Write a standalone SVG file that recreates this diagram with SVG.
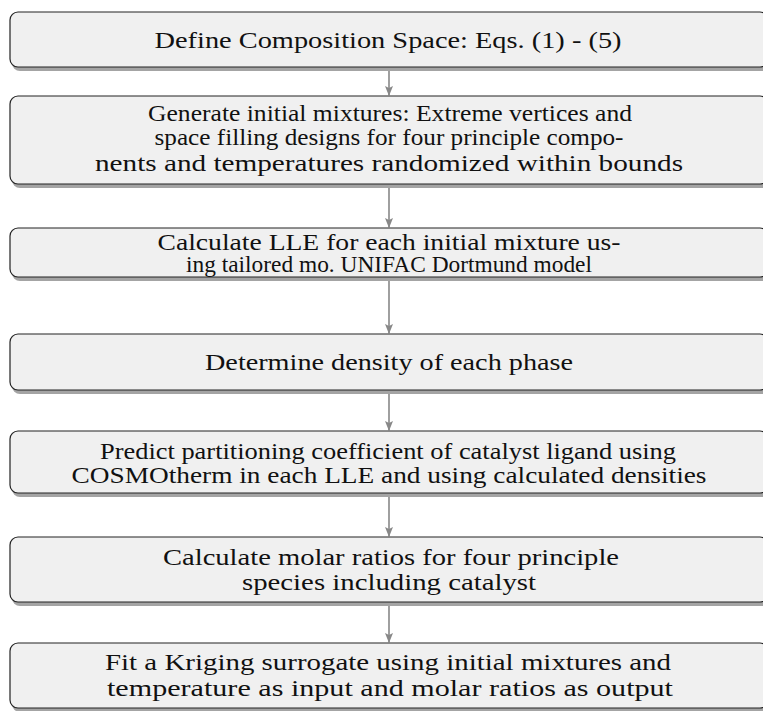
<svg xmlns="http://www.w3.org/2000/svg" width="763" height="711" viewBox="0 0 763 711">
<style>
.box{fill:#f0f0f0;stroke:#222;stroke-width:1.2}
.sh{fill:#a4a4a4}
.t{font-family:'Liberation Serif','DejaVu Serif','Times New Roman',serif;font-size:24px;fill:#111;text-anchor:middle}
.c{stroke:#888;stroke-width:1.6;fill:none}
</style>
<defs>
<marker id="ah" markerWidth="10" markerHeight="12" refX="9" refY="4" orient="auto" markerUnits="userSpaceOnUse" viewBox="0 0 10 8">
<path d="M0,0 L10,4 L0,8 L2,4 Z" fill="#888"/>
</marker>
</defs>
<rect width="763" height="711" fill="#fff"/>
<g id="connectors">
<line class="c" x1="389" y1="71" x2="389" y2="95" marker-end="url(#ah)"/>
<line class="c" x1="389" y1="188" x2="389" y2="227" marker-end="url(#ah)"/>
<line class="c" x1="389" y1="281" x2="389" y2="333" marker-end="url(#ah)"/>
<line class="c" x1="389" y1="394" x2="389" y2="430" marker-end="url(#ah)"/>
<line class="c" x1="389" y1="497" x2="389" y2="536" marker-end="url(#ah)"/>
<line class="c" x1="389" y1="606" x2="389" y2="642" marker-end="url(#ah)"/>
</g>
<g id="n1">
<rect class="sh" x="12" y="16" width="758" height="55" rx="8"/>
<rect class="box" x="10" y="12" width="758" height="55" rx="8"/>
<text class="t" x="388" y="48" textLength="467" lengthAdjust="spacingAndGlyphs">Define Composition Space: Eqs. (1) - (5)</text>
</g>
<g id="n2">
<rect class="sh" x="12" y="100" width="758" height="88" rx="8"/>
<rect class="box" x="10" y="96" width="758" height="88" rx="8"/>
<text class="t" x="390" y="121" textLength="484" lengthAdjust="spacingAndGlyphs">Generate initial mixtures: Extreme vertices and</text>
<text class="t" x="389" y="145" textLength="469" lengthAdjust="spacingAndGlyphs">space filling designs for four principle compo-</text>
<text class="t" x="389" y="171" textLength="588" lengthAdjust="spacingAndGlyphs">nents and temperatures randomized within bounds</text>
</g>
<g id="n3">
<rect class="sh" x="12" y="232" width="758" height="49" rx="8"/>
<rect class="box" x="10" y="228" width="758" height="49" rx="8"/>
<text class="t" x="389" y="250" textLength="463" lengthAdjust="spacingAndGlyphs">Calculate LLE for each initial mixture us-</text>
<text class="t" x="389" y="272" textLength="406" lengthAdjust="spacingAndGlyphs">ing tailored mo. UNIFAC Dortmund model</text>
</g>
<g id="n4">
<rect class="sh" x="12" y="338" width="758" height="56" rx="8"/>
<rect class="box" x="10" y="334" width="758" height="56" rx="8"/>
<text class="t" x="389" y="370" textLength="368" lengthAdjust="spacingAndGlyphs">Determine density of each phase</text>
</g>
<g id="n5">
<rect class="sh" x="12" y="435" width="758" height="62" rx="8"/>
<rect class="box" x="10" y="431" width="758" height="62" rx="8"/>
<text class="t" x="388" y="459" textLength="576" lengthAdjust="spacingAndGlyphs">Predict partitioning coefficient of catalyst ligand using</text>
<text class="t" x="389" y="483" textLength="635" lengthAdjust="spacingAndGlyphs">COSMOtherm in each LLE and using calculated densities</text>
</g>
<g id="n6">
<rect class="sh" x="12" y="541" width="758" height="65" rx="8"/>
<rect class="box" x="10" y="537" width="758" height="65" rx="8"/>
<text class="t" x="391" y="565" textLength="456" lengthAdjust="spacingAndGlyphs">Calculate molar ratios for four principle</text>
<text class="t" x="389" y="590" textLength="294" lengthAdjust="spacingAndGlyphs">species including catalyst</text>
</g>
<g id="n7">
<rect class="sh" x="12" y="647" width="758" height="65" rx="8"/>
<rect class="box" x="10" y="643" width="758" height="65" rx="8"/>
<text class="t" x="388" y="670" textLength="566" lengthAdjust="spacingAndGlyphs">Fit a Kriging surrogate using initial mixtures and</text>
<text class="t" x="390" y="696" textLength="566" lengthAdjust="spacingAndGlyphs">temperature as input and molar ratios as output</text>
</g>
</svg>
